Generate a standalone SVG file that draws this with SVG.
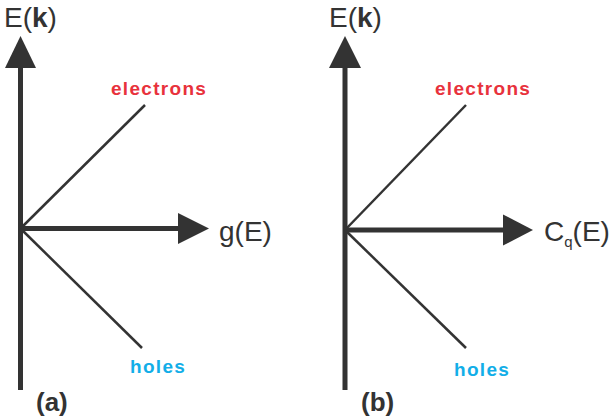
<svg xmlns="http://www.w3.org/2000/svg" width="613" height="420" viewBox="0 0 613 420">
<style>
.ax{stroke:#333;stroke-width:5;fill:none}
.dg{stroke:#333;stroke-width:2.5;fill:none}
.hd{fill:#333}
.lb{font-family:"Liberation Sans",Arial,sans-serif;font-size:28px;fill:#333}
.el{font-family:"Liberation Sans",Arial,sans-serif;font-size:19px;font-weight:bold;letter-spacing:1.3px;fill:#e8323c}
.ho{font-family:"Liberation Sans",Arial,sans-serif;font-size:19px;font-weight:bold;letter-spacing:1.3px;fill:#12aee8}
.pn{font-family:"Liberation Sans",Arial,sans-serif;font-size:26px;font-weight:bold;fill:#333}
</style>
<rect width="613" height="420" fill="#fff"/>
<g id="connectors">
<line class="ax" x1="20.5" y1="390" x2="20.5" y2="64"/>
<polygon class="hd" points="20.5,36 36,68 5,68"/>
<line class="ax" x1="20.5" y1="228.5" x2="182" y2="228.5"/>
<polygon class="hd" points="209,228.5 178,213 178,244"/>
<line class="dg" x1="20.5" y1="228.5" x2="145" y2="105"/>
<line class="dg" x1="20.5" y1="228.5" x2="142" y2="348"/>
<line class="ax" x1="345" y1="390" x2="345" y2="64"/>
<polygon class="hd" points="345,36 361,68 329,68"/>
<line class="ax" x1="345" y1="230" x2="507" y2="230"/>
<polygon class="hd" points="533,230 503,214.5 503,245.5"/>
<line class="dg" x1="345" y1="230" x2="466" y2="105"/>
<line class="dg" x1="345" y1="230" x2="466" y2="348"/>
</g>
<g id="panel-a">
<text class="lb" x="4" y="27">E(<tspan font-weight="bold">k</tspan>)</text>
<text class="lb" x="219" y="241">g(E)</text>
<text class="el" x="111" y="95">electrons</text>
<text class="ho" x="130" y="373">holes</text>
<text class="pn" x="36" y="411">(a)</text>
</g>
<g id="panel-b">
<text class="lb" x="329" y="27">E(<tspan font-weight="bold">k</tspan>)</text>
<text class="lb" x="544" y="241">C<tspan font-size="15" dy="6">q</tspan><tspan dy="-6">(E)</tspan></text>
<text class="el" x="435" y="95">electrons</text>
<text class="ho" x="454" y="376">holes</text>
<text class="pn" x="361" y="411">(b)</text>
</g>
</svg>
